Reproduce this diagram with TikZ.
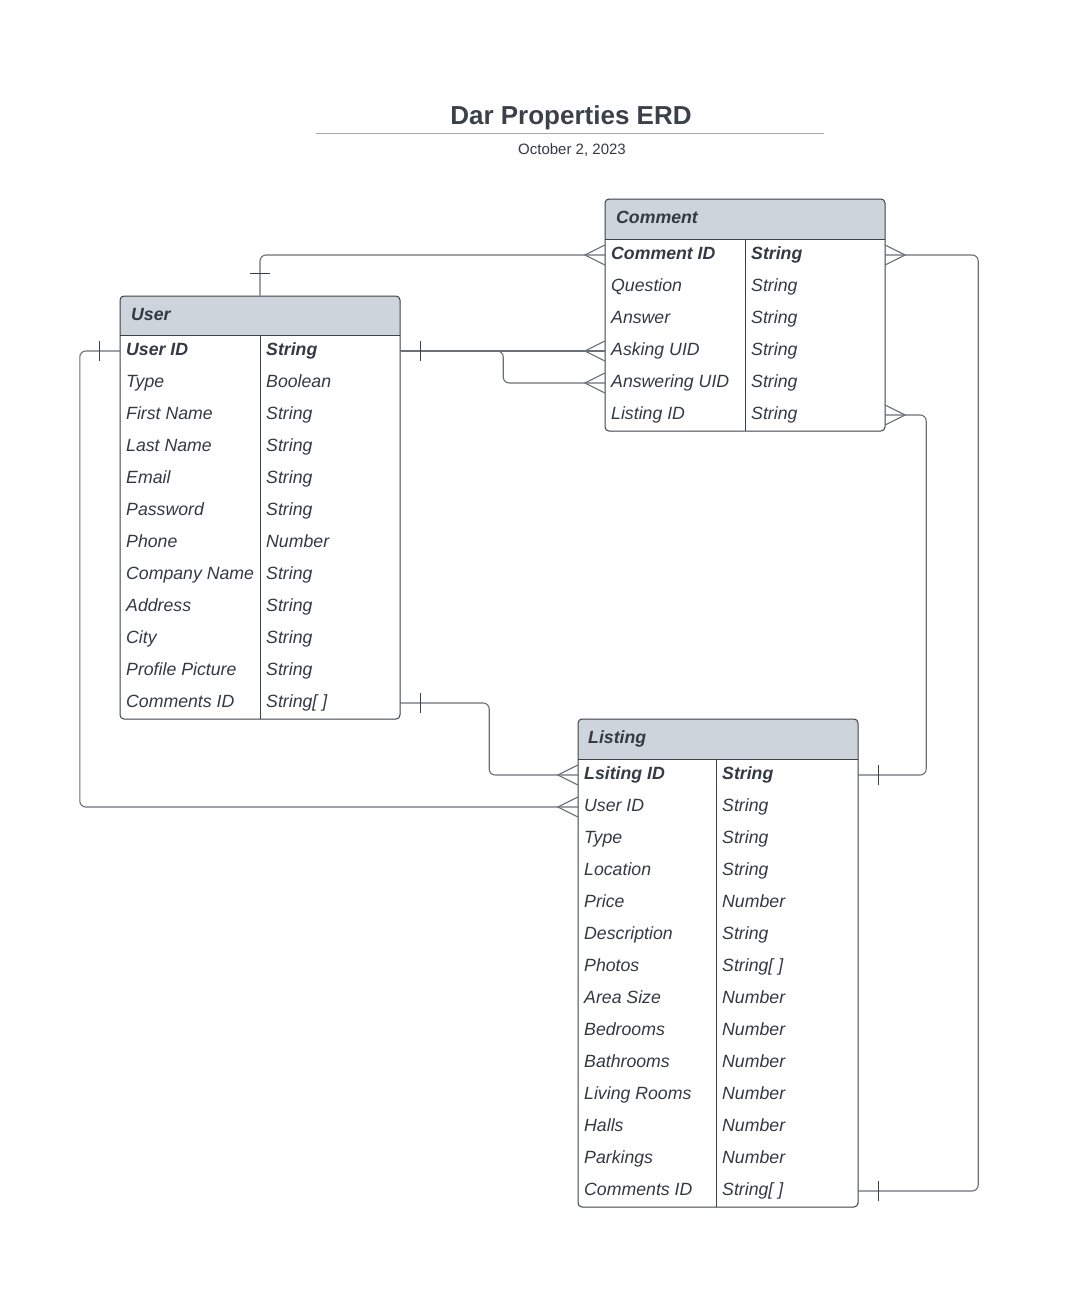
\documentclass[tikz,border=0pt]{standalone}
\usepackage{fontspec}
\setmainfont{Liberation Sans}
\usetikzlibrary{calc}
\definecolor{hdrc}{HTML}{CED4DB}
\definecolor{tlc}{HTML}{3A414A}
\definecolor{txtc}{HTML}{333A44}
\definecolor{connc}{HTML}{6B7079}
\definecolor{rulec}{HTML}{A3A8B1}
\tikzset{
  tblbox/.style={draw=tlc, line width=1pt, rounded corners=4pt, minimum width=280pt, inner sep=0pt},
  tline/.style={draw=tlc, line width=1pt},
  rowbox/.style={minimum width=280pt, minimum height=32pt, inner sep=0pt},
  fld/.style={anchor=base west, inner sep=0pt, text=txtc, font=\itshape\fontsize{17.7}{20}\selectfont},
  keyfld/.style={fld, font=\bfseries\itshape\fontsize{17.7}{20}\selectfont},
  hdrtxt/.style={fld, font=\bfseries\itshape\fontsize{17.7}{20}\selectfont},
  conn/.style={draw=connc, line width=1.1pt, rounded corners=6pt},
  crowL/.pic={\draw[connc, line width=1.1pt] (0,-10) -- (-20,0) -- (0,10);},
  crowR/.pic={\draw[connc, line width=1.1pt] (0,-10) -- (20,0) -- (0,10);},
  barL/.pic={\draw[tlc, line width=1.1pt] (-20,-10) -- (-20,10);},
  barR/.pic={\draw[tlc, line width=1.1pt] (20,-10) -- (20,10);},
  barU/.pic={\draw[tlc, line width=1.1pt] (-10,-22) -- (10,-22);},
}
\begin{document}
\begin{tikzpicture}[x=1pt,y=-1pt]
\useasboundingbox[fill=white] (0,0) rectangle (1083,1300);

% Title
\node[anchor=base, inner sep=0pt, text=tlc, font=\bfseries\fontsize{26}{30}\selectfont] (title) at (571,124.3) {Dar Properties ERD};
\draw[rulec, line width=1.3pt] (316,133.5) -- (824,133.5);
\node[anchor=base, inner sep=0pt, text=txtc, font=\fontsize{15}{18}\selectfont] (date) at (572,154.3) {October 2, 2023};

% ---------- User table ----------
\begin{scope}
  \clip[rounded corners=4pt] (120,296) rectangle (400,719);
  \fill[hdrc] (120,296) rectangle (400,335);
\end{scope}
\node[tblbox, minimum height=423pt] (user) at (260,507.5) {};
\draw[tline] (120,335) -- (400,335) (260,335) -- (260,719);
\node[hdrtxt] (userT) at (131,320.3) {User};
\node[rowbox] (ur1) at (260,351) {};
\node[keyfld] (ua1) at (126,355.6) {User ID};
\node[keyfld] (ub1) at (266,355.6) {String};
\foreach \a/\b [count=\i from 2] in {Type/Boolean, First Name/String, Last Name/String, Email/String, Password/String, Phone/Number, Company Name/String, Address/String, City/String, Profile Picture/String, Comments ID/{String[ ]}} {
  \node[rowbox] (ur\i) at (260,{335+32*\i-16}) {};
  \node[fld] (ua\i) at (126,{335+32*\i-11.4}) {\a};
  \node[fld] (ub\i) at (266,{335+32*\i-11.4}) {\b};
}

% ---------- Comment table ----------
\begin{scope}
  \clip[rounded corners=4pt] (605,199) rectangle (885,431);
  \fill[hdrc] (605,199) rectangle (885,239);
\end{scope}
\node[tblbox, minimum height=232pt] (comment) at (745,315) {};
\draw[tline] (605,239) -- (885,239) (745,239) -- (745,431);
\node[hdrtxt] (commentT) at (616,223.3) {Comment};
\node[rowbox] (cr1) at (745,255) {};
\node[keyfld] (ca1) at (611,259.6) {Comment ID};
\node[keyfld] (cb1) at (751,259.6) {String};
\foreach \a/\b [count=\i from 2] in {Question/String, Answer/String, Asking UID/String, Answering UID/String, Listing ID/String} {
  \node[rowbox] (cr\i) at (745,{239+32*\i-16}) {};
  \node[fld] (ca\i) at (611,{239+32*\i-11.4}) {\a};
  \node[fld] (cb\i) at (751,{239+32*\i-11.4}) {\b};
}

% ---------- Listing table ----------
\begin{scope}
  \clip[rounded corners=4pt] (578,719) rectangle (858,1207);
  \fill[hdrc] (578,719) rectangle (858,759);
\end{scope}
\node[tblbox, minimum height=488pt] (listing) at (718,963) {};
\draw[tline] (578,759) -- (858,759) (716,759) -- (716,1207);
\node[hdrtxt] (listingT) at (588,743.3) {Listing};
\node[rowbox] (lr1) at (718,775) {};
\node[keyfld] (la1) at (584,779.6) {Lsiting ID};
\node[keyfld] (lb1) at (722,779.6) {String};
\foreach \a/\b [count=\i from 2] in {User ID/String, Type/String, Location/String, Price/Number, Description/String, Photos/{String[ ]}, Area Size/Number, Bedrooms/Number, Bathrooms/Number, Living Rooms/Number, Halls/Number, Parkings/Number, Comments ID/{String[ ]}} {
  \node[rowbox] (lr\i) at (718,{759+32*\i-16}) {};
  \node[fld] (la\i) at (584,{759+32*\i-11.4}) {\a};
  \node[fld] (lb\i) at (722,{759+32*\i-11.4}) {\b};
}

% ---------- Connectors ----------
\draw[conn] (cr1.west) -| (user.north);
\draw[conn] (ur1.east) -- (cr4.west);
\draw[conn] (ur1.east) -- ($(ur1.east)+(103,0)$) |- (cr5.west);
\draw[conn] (cr6.east) -- ($(cr6.east)+(41,0)$) |- (lr1.east);
\draw[conn] (cr1.east) -- ($(cr1.east)+(93,0)$) |- (lr14.east);
\draw[conn] (ur12.east) -- ($(ur12.east)+(89,0)$) |- (lr1.west);
\draw[conn] (ur1.west) -- ($(ur1.west)+(-40,0)$) |- (lr2.west);

% ends
\pic at (cr1.west) {crowL};
\pic at (cr4.west) {crowL};
\pic at (cr5.west) {crowL};
\pic at (lr1.west) {crowL};
\pic at (lr2.west) {crowL};
\pic at (cr1.east) {crowR};
\pic at (cr6.east) {crowR};
\pic at (user.north) {barU};
\pic at (ur1.east) {barR};
\pic at (ur12.east) {barR};
\pic at (ur1.west) {barL};
\pic at (lr1.east) {barR};
\pic at (lr14.east) {barR};
\end{tikzpicture}
\end{document}
